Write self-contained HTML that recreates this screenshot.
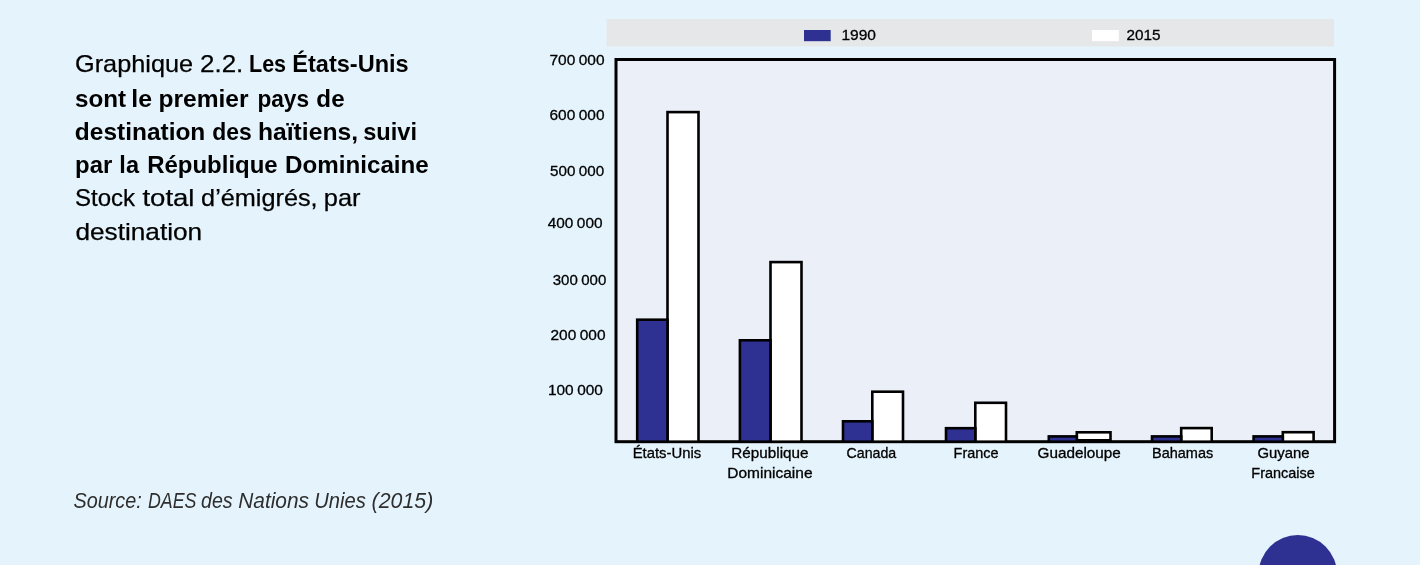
<!DOCTYPE html>
<html lang="fr">
<head>
<meta charset="utf-8">
<title>Graphique 2.2</title>
<style>
html,body{margin:0;padding:0;background:#e5f4fc;}
body{width:1420px;height:565px;overflow:hidden;position:relative;}
svg{position:absolute;left:0;top:0;display:block;}
text{font-family:"Liberation Sans", sans-serif;fill:#000000;white-space:pre;}
.b{font-weight:700;}
text.lt{fill:#2e2e2e;}
.s25{stroke:#000000;stroke-width:0.25px;}
.s40{stroke:#000000;stroke-width:0.3px;}
</style>
</head>
<body>
<svg width="1420" height="565" viewBox="0 0 1420 565">
<rect x="0" y="0" width="1420" height="565" fill="#e5f4fc"/>
<!-- legend -->
<rect x="606.5" y="19" width="727.5" height="27.5" fill="#e6e7e8"/>
<rect x="804" y="30" width="26.7" height="11.2" fill="#2e3192"/>
<rect x="1092" y="30" width="26.8" height="11.2" fill="#ffffff"/>
<!-- plot frame -->
<rect x="616" y="59.5" width="718.6" height="382.2" fill="#eaeff8" stroke="#000" stroke-width="3"/>
<!-- bars -->
<rect x="667.50" y="112.10" width="31.00" height="329.60" fill="#ffffff" stroke="#000" stroke-width="2.6"/>
<rect x="637.20" y="319.70" width="30.30" height="122.00" fill="#2e3192" stroke="#000" stroke-width="2.6"/>
<rect x="770.50" y="262.10" width="31.00" height="179.60" fill="#ffffff" stroke="#000" stroke-width="2.6"/>
<rect x="739.90" y="340.30" width="30.60" height="101.40" fill="#2e3192" stroke="#000" stroke-width="2.6"/>
<rect x="872.30" y="391.70" width="30.70" height="50.00" fill="#ffffff" stroke="#000" stroke-width="2.6"/>
<rect x="843.00" y="421.30" width="29.30" height="20.40" fill="#2e3192" stroke="#000" stroke-width="2.6"/>
<rect x="975.30" y="402.80" width="30.70" height="38.90" fill="#ffffff" stroke="#000" stroke-width="2.6"/>
<rect x="946.00" y="428.20" width="29.30" height="13.50" fill="#2e3192" stroke="#000" stroke-width="2.6"/>
<rect x="1076.80" y="432.30" width="33.70" height="8.00" fill="#ffffff" stroke="#000" stroke-width="2.6"/>
<rect x="1048.80" y="436.40" width="28.00" height="5.30" fill="#2e3192" stroke="#000" stroke-width="2.6"/>
<rect x="1181.20" y="428.10" width="30.50" height="13.60" fill="#ffffff" stroke="#000" stroke-width="2.6"/>
<rect x="1152.00" y="436.40" width="29.20" height="5.30" fill="#2e3192" stroke="#000" stroke-width="2.6"/>
<rect x="1282.80" y="432.20" width="30.80" height="9.50" fill="#ffffff" stroke="#000" stroke-width="2.6"/>
<rect x="1253.60" y="436.40" width="29.20" height="5.30" fill="#2e3192" stroke="#000" stroke-width="2.6"/>
<circle cx="1297.8" cy="574.3" r="39.2" fill="#2e3192"/>
<!-- text -->
<text id="t1" y="72.4" font-size="24"><tspan class="s25" x="75.03" textLength="118.04" lengthAdjust="spacingAndGlyphs">Graphique</tspan> <tspan class="s25" x="199.96" textLength="43.37" lengthAdjust="spacingAndGlyphs">2.2.</tspan> <tspan class="b" x="249.01" textLength="37.10" lengthAdjust="spacingAndGlyphs">Les</tspan> <tspan class="b" x="292.31" textLength="116.35" lengthAdjust="spacingAndGlyphs">États-Unis</tspan></text>
<text id="t2" y="106.6" font-size="24"><tspan class="b" x="74.93" textLength="51.13" lengthAdjust="spacingAndGlyphs">sont</tspan> <tspan class="b" x="131.28" textLength="20.74" lengthAdjust="spacingAndGlyphs">le</tspan> <tspan class="b" x="158.51" textLength="90.05" lengthAdjust="spacingAndGlyphs">premier</tspan> <tspan class="b" x="257.38" textLength="51.72" lengthAdjust="spacingAndGlyphs">pays</tspan> <tspan class="b" x="316.38" textLength="28.21" lengthAdjust="spacingAndGlyphs">de</tspan></text>
<text id="t3" y="139.8" font-size="24"><tspan class="b" x="74.83" textLength="130.50" lengthAdjust="spacingAndGlyphs">destination</tspan> <tspan class="b" x="212.26" textLength="39.50" lengthAdjust="spacingAndGlyphs">des</tspan> <tspan class="b" x="258.00" textLength="100.00" lengthAdjust="spacingAndGlyphs">haïtiens,</tspan> <tspan class="b" x="363.21" textLength="53.87" lengthAdjust="spacingAndGlyphs">suivi</tspan></text>
<text id="t4" y="173.0" font-size="24"><tspan class="b" x="75.12" textLength="37.15" lengthAdjust="spacingAndGlyphs">par</tspan> <tspan class="b" x="119.37" textLength="19.61" lengthAdjust="spacingAndGlyphs">la</tspan> <tspan class="b" x="147.17" textLength="130.55" lengthAdjust="spacingAndGlyphs">République</tspan> <tspan class="b" x="285.02" textLength="143.74" lengthAdjust="spacingAndGlyphs">Dominicaine</tspan></text>
<text id="t5" y="206.0" font-size="24"><tspan class="s25" x="74.98" textLength="60.07" lengthAdjust="spacingAndGlyphs">Stock</tspan> <tspan class="s25" x="142.44" textLength="52.07" lengthAdjust="spacingAndGlyphs">total</tspan> <tspan class="s25" x="201.08" textLength="116.58" lengthAdjust="spacingAndGlyphs">d’émigrés,</tspan> <tspan class="s25" x="323.77" textLength="36.68" lengthAdjust="spacingAndGlyphs">par</tspan></text>
<text id="t6" y="239.6" font-size="24"><tspan class="s25" x="75.43" textLength="126.75" lengthAdjust="spacingAndGlyphs">destination</tspan></text>
<text id="src" y="507.6" font-size="21.3" font-style="italic" class="lt"><tspan x="73.54" textLength="68.23" lengthAdjust="spacingAndGlyphs">Source:</tspan> <tspan x="147.99" textLength="48.41" lengthAdjust="spacingAndGlyphs">DAES</tspan> <tspan x="201.03" textLength="31.67" lengthAdjust="spacingAndGlyphs">des</tspan> <tspan x="238.24" textLength="70.77" lengthAdjust="spacingAndGlyphs">Nations</tspan> <tspan x="314.24" textLength="51.63" lengthAdjust="spacingAndGlyphs">Unies</tspan> <tspan x="371.62" textLength="61.69" lengthAdjust="spacingAndGlyphs">(2015)</tspan></text>
<text id="y7" y="64.5" font-size="15" word-spacing="-0.8"><tspan class="s40" x="549.49" textLength="55.07" lengthAdjust="spacingAndGlyphs">700 000</tspan></text>
<text id="y6" y="119.5" font-size="15" word-spacing="-0.8"><tspan class="s40" x="549.49" textLength="55.02" lengthAdjust="spacingAndGlyphs">600 000</tspan></text>
<text id="y5" y="175.7" font-size="15" word-spacing="-0.8"><tspan class="s40" x="550.09" textLength="54.16" lengthAdjust="spacingAndGlyphs">500 000</tspan></text>
<text id="y4" y="227.7" font-size="15" word-spacing="-0.8"><tspan class="s40" x="547.75" textLength="54.76" lengthAdjust="spacingAndGlyphs">400 000</tspan></text>
<text id="y3" y="284.5" font-size="15" word-spacing="-0.8"><tspan class="s40" x="552.75" textLength="53.50" lengthAdjust="spacingAndGlyphs">300 000</tspan></text>
<text id="y2" y="339.5" font-size="15" word-spacing="-0.8"><tspan class="s40" x="550.49" textLength="55.02" lengthAdjust="spacingAndGlyphs">200 000</tspan></text>
<text id="y1" y="394.5" font-size="15" word-spacing="-0.8"><tspan class="s40" x="547.97" textLength="54.89" lengthAdjust="spacingAndGlyphs">100 000</tspan></text>
<text id="l90" y="40.1" font-size="15"><tspan class="s40" x="841.45" textLength="34.57" lengthAdjust="spacingAndGlyphs">1990</tspan></text>
<text id="l15" y="40.1" font-size="15"><tspan class="s40" x="1126.48" textLength="34.03" lengthAdjust="spacingAndGlyphs">2015</tspan></text>
<text id="c1" y="458.0" font-size="14.3"><tspan class="s40" x="632.68" textLength="68.57" lengthAdjust="spacingAndGlyphs">États-Unis</tspan></text>
<text id="c2a" y="458.0" font-size="14.3"><tspan class="s40" x="731.33" textLength="77.18" lengthAdjust="spacingAndGlyphs">République</tspan></text>
<text id="c2b" y="477.7" font-size="14.3"><tspan class="s40" x="727.33" textLength="85.18" lengthAdjust="spacingAndGlyphs">Dominicaine</tspan></text>
<text id="c3" y="458.0" font-size="14.3"><tspan class="s40" x="846.50" textLength="49.75" lengthAdjust="spacingAndGlyphs">Canada</tspan></text>
<text id="c4" y="458.0" font-size="14.3"><tspan class="s40" x="953.57" textLength="44.94" lengthAdjust="spacingAndGlyphs">France</tspan></text>
<text id="c5" y="458.0" font-size="14.3"><tspan class="s40" x="1037.49" textLength="83.36" lengthAdjust="spacingAndGlyphs">Guadeloupe</tspan></text>
<text id="c6" y="458.0" font-size="14.3"><tspan class="s40" x="1151.98" textLength="61.28" lengthAdjust="spacingAndGlyphs">Bahamas</tspan></text>
<text id="c7a" y="458.0" font-size="14.3"><tspan class="s40" x="1257.49" textLength="52.02" lengthAdjust="spacingAndGlyphs">Guyane</tspan></text>
<text id="c7b" y="477.7" font-size="14.3"><tspan class="s40" x="1251.33" textLength="63.54" lengthAdjust="spacingAndGlyphs">Francaise</tspan></text>
</svg>
</body>
</html>
